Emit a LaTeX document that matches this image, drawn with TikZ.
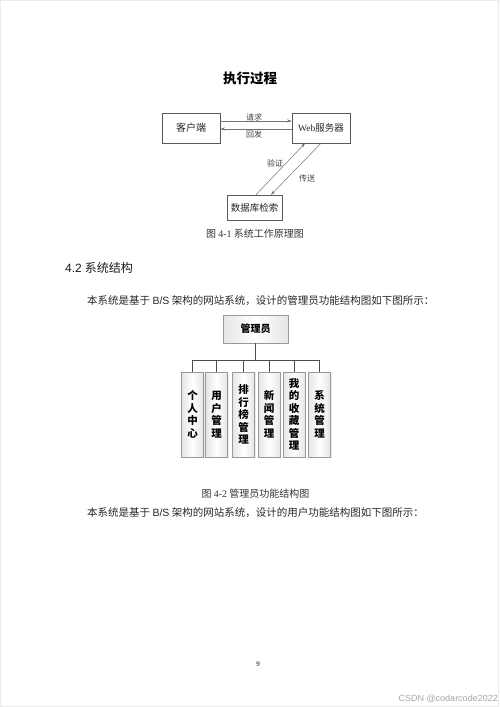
\documentclass[tikz,border=0pt]{standalone}
\usepackage{fontspec}
\setmainfont{Liberation Serif}
\newfontfamily\cjk{Noto Sans CJK SC}
\newfontfamily\lsans{Liberation Sans}
\usetikzlibrary{calc,arrows.meta,shadows}
\begin{document}
\begin{tikzpicture}[x=1pt,y=-1pt,
  flowbox/.style={draw=black!65, line width=0.5pt, minimum width=58pt, minimum height=30pt, inner sep=0pt, font=\cjk\fontsize{10}{12}\selectfont, text=black!85},
  conn/.style={draw=black!55, line width=0.5pt, -{Stealth[length=4.5pt,width=3pt]}},
  lbl/.style={font=\cjk\fontsize{8}{10}\selectfont, text=black!75, inner sep=1pt},
  body/.style={font=\cjk\fontsize{10.5}{12}\selectfont, text=black!85, inner sep=0pt},
  capt/.style={font=\cjk\fontsize{10}{12}\selectfont, text=black!80, inner sep=0pt},
  orgbox/.style={draw=black!40, line width=0.5pt, left color=black!10, right color=black!10, middle color=white,
     drop shadow={opacity=0.15, shadow xshift=1pt, shadow yshift=-1pt}, inner sep=0pt},
  colbox/.style={orgbox, minimum width=22pt, minimum height=85pt, align=center,
     font=\cjk\bfseries\fontsize{10.5}{12.5}\selectfont},
  tree/.style={draw=black!70, line width=0.5pt}
]
\useasboundingbox (0,0) rectangle (500,707);
\draw[black!8, line width=0.8pt] (0.5,0.5) rectangle (498.5,706.5);

% ---------- figure 4-1 ----------
\node[font=\cjk\bfseries\fontsize{13.5}{16}\selectfont] (title) at (250,78) {执行过程};
\node[flowbox] (client) at (191,128) {客户端};
\node[flowbox, font=\fontsize{9.5}{12}\selectfont] (web) at (321,128) {Web{\cjk 服务器}};
\node[flowbox, minimum width=55pt, minimum height=25pt, font=\cjk\fontsize{9.5}{12}\selectfont] (db) at (254.5,207.5) {数据库检索};

\draw[conn] ($(client.east)+(0,-7)$) -- ($(web.west)+(0,-7)$);
\draw[conn] ($(web.west)+(0,1)$) -- ($(client.east)+(0,1)$);
\node[lbl] (lreq) at (254,117) {请求};
\node[lbl] (lret) at (254,134) {回发};

\draw[conn] ($(db.north)+(1.5,0)$) -- ($(web.south)+(-16,0)$);
\draw[conn] ($(web.south)+(0,0)$) -- ($(db.north)+(16.5,0)$);
\node[lbl] (lver) at (275,163) {验证};
\node[lbl] (lsend) at (307,178) {传送};

\node[capt] (cap1) at (255,234) {图 {\rmfamily 4-1} 系统工作原理图};

% ---------- section 4.2 ----------
\node[anchor=west, inner sep=0pt, font=\fontsize{12}{14}\selectfont, text=black!90] (sec) at (65,268) {{\lsans 4.2} {\cjk 系统结构}};
\node[body, anchor=west] (p1) at (87,301) {本系统是基于 {\lsans B/S} 架构的网站系统，设计的管理员功能结构图如下图所示：};

% ---------- figure 4-2 ----------
\node[orgbox, minimum width=65pt, minimum height=28pt, font=\cjk\bfseries\fontsize{10}{12}\selectfont] (adm) at (255.5,329) {管理员};
\node[colbox] (c1) at (192.5,414.5) {个\\人\\中\\心};
\node[colbox] (c2) at (216.5,414.5) {用\\户\\管\\理};
\node[colbox] (c3) at (243.5,414.5) {排\\行\\榜\\管\\理};
\node[colbox] (c4) at (269.2,414.5) {新\\闻\\管\\理};
\node[colbox] (c5) at (294.2,414.5) {我\\的\\收\\藏\\管\\理};
\node[colbox] (c6) at (319.5,414.5) {系\\统\\管\\理};
\coordinate (bus) at (adm.south |- 0,360);
\draw[tree] (adm.south) -- (bus);
\draw[tree] (bus -| c1.north) -- (bus -| c6.north);
\foreach \c in {c1,c2,c3,c4,c5,c6} { \draw[tree] (bus -| \c.north) -- (\c.north); }

\node[capt] (cap2) at (255.5,494) {图 {\rmfamily 4-2} 管理员功能结构图};
\node[body, anchor=west] (p2) at (87,513) {本系统是基于 {\lsans B/S} 架构的网站系统，设计的用户功能结构图如下图所示：};

% ---------- footer ----------
\node[font=\fontsize{7}{8}\selectfont, inner sep=0pt] (pg) at (258,664) {9};
\node[anchor=east, inner sep=0pt, font=\lsans\fontsize{9}{10}\selectfont, text=black!35] (wm) at (498,699) {CSDN @codarcode2022};
\end{tikzpicture}
\end{document}
